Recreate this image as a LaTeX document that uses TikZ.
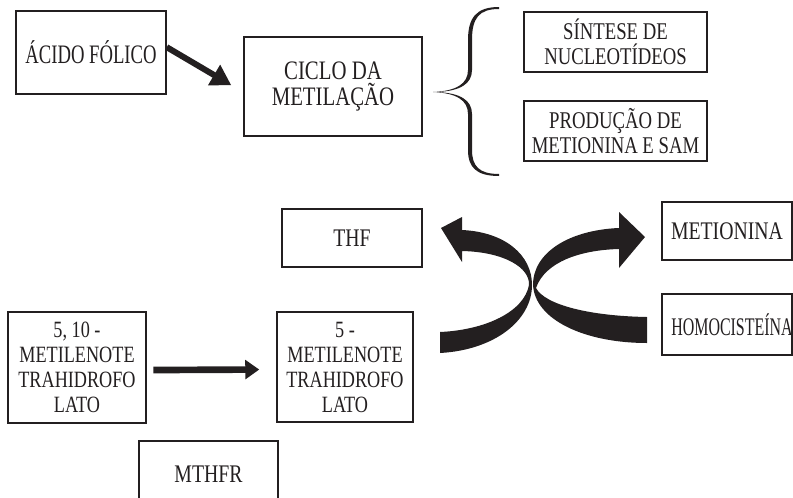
\documentclass[tikz,border=0pt]{standalone}
\usepackage{fontspec}
\setmainfont[FakeStretch=0.78]{Liberation Serif}
\newfontfamily\condA[FakeStretch=0.63]{Liberation Serif}
\newfontfamily\condB[FakeStretch=0.70]{Liberation Serif}
\usetikzlibrary{arrows.meta}
\definecolor{ink}{RGB}{35,31,32}
\begin{document}
\begin{tikzpicture}[x=0.75pt,y=-0.75pt,
  box/.style={draw=ink, line width=1.1pt, inner sep=0pt, align=center, text=ink},
  big/.style={font=\fontsize{20}{20}\selectfont},
  mid/.style={font=\fontsize{18}{18.75}\selectfont},
  one/.style={font=\fontsize{19}{19}\selectfont},
  small/.style={font=\fontsize{17.5}{18.75}\selectfont},
  bigarrow/.style={draw=ink, line width=4.5pt, -{Triangle[length=15pt,width=17pt]}},
  flatarrow/.style={draw=ink, line width=5pt, -{Triangle[length=10.5pt,width=14pt]}},
  fat/.style={fill=ink, draw=none}]
\useasboundingbox (0,0) rectangle (793,497);
\clip (0,0) rectangle (793,497);

% boxes
\node[box,big,minimum width=112.5pt,minimum height=62.25pt] (acido) at (91,52.5) {\condB ÁCIDO FÓLICO};
\node[box,big,minimum width=133.5pt,minimum height=74.25pt] (ciclo) at (333,86.5) {CICLO DA\\METILAÇÃO};
\node[box,mid,minimum width=137.25pt,minimum height=45pt] (sintese) at (615.5,42) {SÍNTESE DE\\NUCLEOTÍDEOS};
\node[box,mid,minimum width=137.25pt,minimum height=45pt] (producao) at (615.5,131) {PRODUÇÃO DE\\METIONINA E SAM};
\node[box,one,minimum width=105pt,minimum height=43.5pt] (thf) at (352,238) {THF};
\node[box,one,minimum width=97.5pt,minimum height=43.5pt] (metionina) at (727,231) {METIONINA};
\node[box,one,minimum width=97.5pt,minimum height=45.75pt] (homo) at (727,324.5) {};
\node[one,text=ink,inner sep=0pt] (homotxt) at (732,324.5) {\condA HOMOCISTEÍNA};
\node[box,small,minimum width=103.5pt,minimum height=83.25pt] (m510) at (77,367.5) {5, 10 -\\METILENOTE\\TRAHIDROFO\\LATO};
\node[box,small,minimum width=102pt,minimum height=82.5pt] (m5) at (345,367) {5 -\\METILENOTE\\TRAHIDROFO\\LATO};
\node[box,one,minimum width=104.25pt,minimum height=49.5pt] (mthfr) at (208.5,474) {MTHFR};

% straight arrows
\draw[bigarrow] ([yshift=4pt]acido.east) -- ([xshift=-9pt,yshift=1pt]ciclo.west);
\draw[flatarrow] ([xshift=5pt,yshift=-1.9pt]m510.east) -- ([xshift=-12.75pt,yshift=-1.9pt]m5.west);

% brace (calligraphic: thicker spine, thin ends)
\fill[fat] (499,7) .. controls (476,7) and (468,18) .. (468,40) -- (468,70)
  .. controls (468,84) and (456,91) .. (433,92)
  .. controls (456,93) and (468,100) .. (468,114) -- (468,150)
  .. controls (468,167) and (476,176) .. (499,176)
  -- (499,174) .. controls (479,174) and (472,166) .. (472,150) -- (472,114)
  .. controls (472,100) and (460,93) .. (437,92)
  .. controls (460,91) and (472,84) .. (472,70) -- (472,40)
  .. controls (472,18) and (479,9) .. (499,9) -- cycle;

% crossing curved arrows
\fill[fat] (440,332) .. controls (485,330) and (524,312) .. (529,285)
  .. controls (530,268) and (505,252) .. (462,251)
  -- (462,262) -- (441,228) -- (462,217) -- (462,230)
  .. controls (505,232) and (532,255) .. (532,285)
  .. controls (532,320) and (495,350) .. (440,353) -- cycle;
\fill[fat] (647,317) .. controls (590,316) and (545,305) .. (536,288)
  .. controls (545,262) and (580,250) .. (619,249)
  -- (619,268) -- (645,237) -- (619,212) -- (619,228)
  .. controls (570,230) and (533,252) .. (533,285)
  .. controls (535,320) and (585,343) .. (647,343) -- cycle;
\end{tikzpicture}
\end{document}
